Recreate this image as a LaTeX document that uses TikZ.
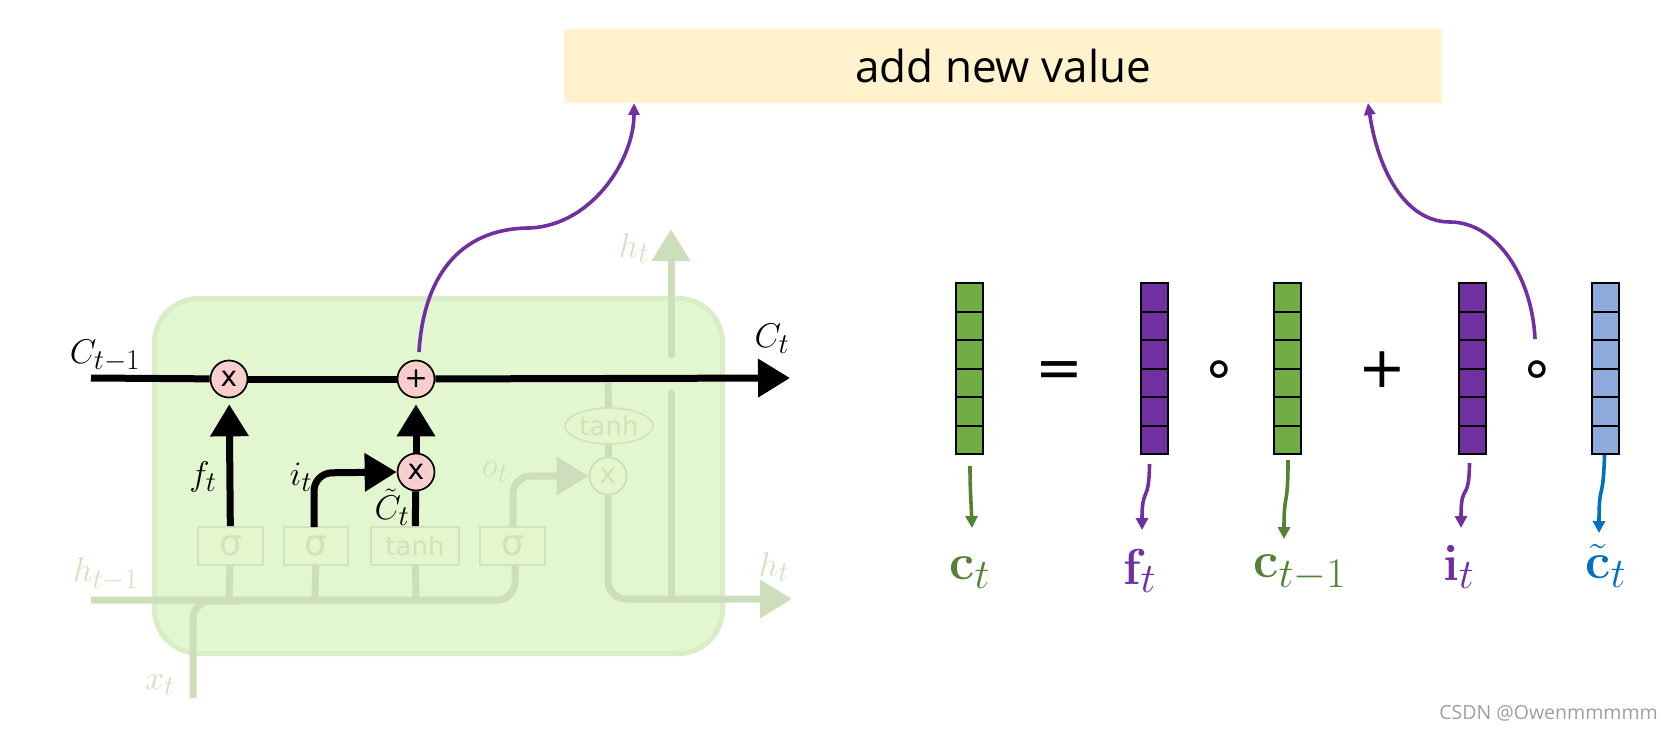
\documentclass[tikz,border=0pt]{standalone}
\usepackage{amsmath}
\usepackage[no-math]{fontspec}
\setmainfont{Open Sans}
\newfontfamily\djv{DejaVu Sans}
\usetikzlibrary{arrows.meta,positioning,shapes.geometric}
\definecolor{cellbg}{HTML}{E2F6D0}
\definecolor{cellln}{HTML}{D9EDC6}
\definecolor{fade}{HTML}{CCDEBB}
\definecolor{fadetx}{HTML}{D0E3BE}
\definecolor{fadebox}{HTML}{E5F5CC}
\definecolor{pinkc}{HTML}{F8CECC}
\definecolor{purp}{HTML}{7030A0}
\definecolor{grn}{HTML}{70AD47}
\definecolor{dgrn}{HTML}{548235}
\definecolor{lblue}{HTML}{8FAADC}
\definecolor{dblue}{HTML}{0070C0}
\definecolor{note}{HTML}{FFF2CC}
\tikzset{
  gate/.style={circle,draw=black,line width=1.7pt,fill=pinkc,minimum size=37pt,inner sep=0pt,font=\djv\fontsize{28}{28}\selectfont},
  fgate/.style={circle,draw=fade,line width=1.7pt,fill=fadebox,minimum size=37pt,inner sep=0pt,text=fadetx,font=\djv\fontsize{28}{28}\selectfont},
  layerbox/.style={rectangle,draw=fadetx,line width=1.7pt,fill=fadebox,text=fadetx,minimum height=38pt,inner sep=0pt,font=\djv\fontsize{36}{36}\selectfont},
  heavy/.style={line width=7pt,draw=black},
  faint/.style={line width=7pt,draw=fade},
  hvtip/.style={-{Triangle[width=37pt,length=32pt]}},
  thin link/.style={line width=3.6pt,-{Triangle[width=12pt,length=12pt]},line cap=butt},
  curve link/.style={line width=3.6pt,draw=purp,-{Triangle[width=11pt,length=12pt]}},
  lab/.style={inner sep=0pt,scale=1.38,font=\fontsize{24.88}{26}\selectfont},
  flab/.style={lab,text=fadetx},
  eqlab/.style={inner sep=0pt,font=\djv\fontsize{57}{57}\selectfont},
  vlab/.style={inner sep=0pt,scale=2.03,font=\fontsize{24.88}{26}\selectfont},
  vcell/.style={rectangle,draw=black,line width=2pt,minimum width=27pt,minimum height=28.5pt,inner sep=0pt},
}
\newcommand{\vectorcol}[3]{%
  \foreach \k in {0,...,5}{\node[vcell,fill=#3] (#1\k) at (#2,{297.25+\k*28.5}) {};}}
\begin{document}
\begin{tikzpicture}[x=1pt,y=-1pt]
\useasboundingbox (0,0) rectangle (1672,730);
% cell
\node[rectangle,rounded corners=44pt,draw=cellln,line width=5pt,fill=cellbg,minimum width=568pt,minimum height=355pt,inner sep=0pt] (cell) at (438.5,476) {};
% note
\node[rectangle,fill=note,minimum width=878pt,minimum height=74pt,inner sep=0pt,font=\fontsize{44}{44}\selectfont] (add) at (1003,66) {add new value};
% faded nodes
\node[layerbox,minimum width=65pt] (s1) at (230.5,546) {σ};
\node[layerbox,minimum width=64pt] (s2) at (316,546) {σ};
\node[layerbox,minimum width=88pt,font=\djv\fontsize{26}{26}\selectfont] (s3) at (415,546) {tanh};
\node[layerbox,minimum width=65pt] (s4) at (512.5,546) {σ};
\node[ellipse,draw=fadetx,line width=1.7pt,fill=fadebox,text=fadetx,minimum width=88pt,minimum height=36pt,inner sep=0pt,font=\djv\fontsize{26}{26}\selectfont] (tn) at (609,426) {tanh};
\node[fgate] (xo) at (608,476) {x};
\coordinate (hs) at (91,600);
\coordinate (he) at (792,599);
\coordinate (xs) at (193,698);
\coordinate (cs) at (91,378);
\coordinate (ce) at (790,378);
\coordinate (hu) at (671,229);
\coordinate (hm) at (671,355);
\coordinate (hl) at (671,393);
\coordinate (vt) at (608,381);
\coordinate (s1b) at (229,600);
\coordinate (s2b) at (315,600);
\coordinate (s3b) at (416,600);
\coordinate (s4b) at (515,566);
\coordinate (s4t) at (513,527);
% faded connectors
\draw[faint,rounded corners=18pt] (hs) -- (515,600) -- (s4b);
\draw[faint,rounded corners=18pt] (xs) -- (193,601) -- (240,601);
\draw[faint,hvtip,rounded corners=18pt] (s4t) -- (513,476) -- (xo.west);
\draw[faint] (s1) -- (s1b);
\draw[faint] (s2) -- (s2b);
\draw[faint] (s3) -- (s3b);
\draw[faint] (vt) -- (tn);
\draw[faint] (tn) -- (xo);
\draw[faint,hvtip,rounded corners=18pt] (xo) -- (608,599) -- (he);
\draw[faint,line cap=round] (hl) -- (671,599);
\draw[faint,hvtip,line cap=round] (hm) -- (hu);
% gates
\node[gate] (g1) at (229,379) {x};
\node[gate] (g2) at (416,379) {+};
\node[gate] (g3) at (416,472) {x};
% bold connectors
\draw[heavy] (cs) -- (g1);
\draw[heavy] (g1) -- (g2);
\draw[heavy,hvtip] (g2) -- (ce);
\draw[heavy,hvtip,shorten >=6pt] (s1) -- (g1);
\draw[heavy,hvtip,shorten >=6pt] (g3) -- (g2);
\draw[heavy] (s3) -- (g3);
\coordinate (s2t) at (314,527);
\draw[heavy,hvtip,rounded corners=18pt] (s2t) -- (314,473) -- (g3.west);
% labels
\node[lab] (lc0) at (105,356) {$C_{t-1}$};
\node[lab] (lc1) at (772,339) {$C_t$};
\node[lab] (lf) at (203,477) {$f_t$};
\node[lab] (li) at (301,477) {$i_t$};
\node[lab] (lct) at (392,507) {$\tilde{C}_t$};
\node[flab] (lo) at (495,472) {$o_t$};
\node[flab] (lh0) at (106,574) {$h_{t-1}$};
\node[flab] (lh1) at (774,567) {$h_t$};
\node[flab] (lh2) at (634,248) {$h_t$};
\node[flab] (lx) at (160,685) {$x_t$};
% curves
\coordinate (pa) at (419,352);
\coordinate (pb) at (1535,339);
\coordinate (ta) at (634,103);
\coordinate (tb) at (1368,103);
\draw[curve link] (pa) .. controls (424,270) and (465,228) .. (530,228) .. controls (592,225) and (634,160) .. (ta);
\draw[curve link] (pb) .. controls (1532,275) and (1495,222) .. (1450,222) .. controls (1405,222) and (1378,170) .. (tb);
% vectors
\vectorcol{a}{969}{grn}
\vectorcol{b}{1154.5}{purp}
\vectorcol{c}{1287.5}{grn}
\vectorcol{d}{1472.5}{purp}
\vectorcol{e}{1605}{lblue}
% operators
\node[eqlab] (eq) at (1059,375) {=};
\node[eqlab] (o1) at (1219,374) {∘};
\node[eqlab] (pl) at (1382,370) {+};
\node[eqlab] (o2) at (1537,374) {∘};
% vector labels
\node[vlab,text=dgrn] (vc) at (970,573) {$\mathbf{c}_t$};
\node[vlab,text=purp] (vf) at (1140,571) {$\mathbf{f}_t$};
\node[vlab,text=dgrn] (vcp) at (1300,573) {$\mathbf{c}_{t-1}$};
\node[vlab,text=purp] (vi) at (1459,567) {$\mathbf{i}_t$};
\node[vlab,text=dblue] (vct) at (1606,566) {$\tilde{\mathbf{c}}_t$};
% links
\coordinate (la) at (970,466);
\coordinate (lat) at (972,528);
\draw[thin link,dgrn] (la) .. controls (970,490) and (971,500) .. (lat);
\coordinate (lb) at (1149.5,464);
\coordinate (lbt) at (1142,530);
\draw[thin link,purp] (lb) .. controls (1149,505) and (1142,485) .. (lbt);
\coordinate (lc) at (1288,460);
\coordinate (lct2) at (1284,539);
\draw[thin link,dgrn] (lc) .. controls (1288,510) and (1284,490) .. (lct2);
\coordinate (ld) at (1469.5,463);
\coordinate (ldt) at (1461,528);
\draw[thin link,purp] (ld) .. controls (1469,505) and (1461,480) .. (ldt);
\coordinate (let) at (1599,533);
\draw[thin link,dblue] (e5) .. controls (1603,505) and (1599,480) .. (let);
% watermark
\node[inner sep=0pt,anchor=east,text=black!38,font=\fontsize{19.5}{19.5}\selectfont] (wm) at (1658,713) {CSDN @Owenmmmmm};
\end{tikzpicture}
\end{document}
